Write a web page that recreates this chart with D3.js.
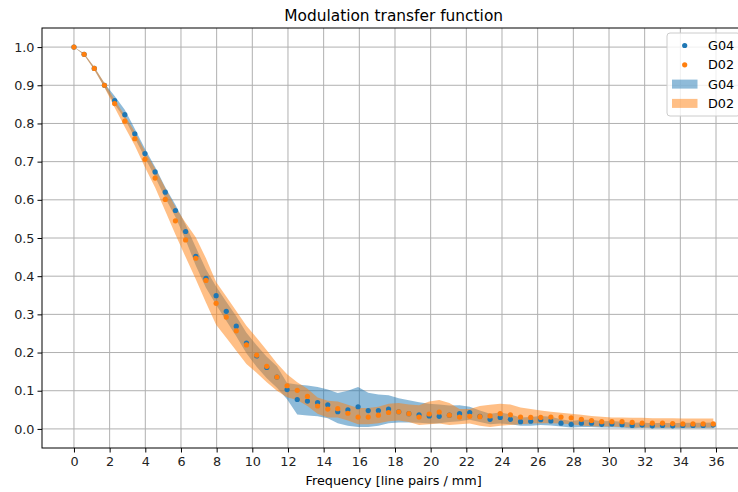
<!DOCTYPE html>
<html>
<head>
<meta charset="utf-8">
<script src="https://cdn.jsdelivr.net/npm/d3@7"></script>
<style>
  body { margin: 0; background: #fff; }
  svg { display: block; font-family: 'DejaVu Sans', sans-serif; }
</style>
</head>
<body>
<div id="mtf_chart"></div>
<script>
// spatial frequency of each sample [lp/mm]
const freq = [0, 0.57, 1.14, 1.71, 2.28, 2.85, 3.41, 3.98, 4.55, 5.12, 5.69, 6.26, 6.83, 7.40, 7.97, 8.54,
  9.10, 9.67, 10.24, 10.81, 11.38, 11.95, 12.52, 13.09, 13.66, 14.23, 14.79, 15.36, 15.93, 16.50, 17.07, 17.64,
  18.21, 18.78, 19.35, 19.92, 20.48, 21.05, 21.62, 22.19, 22.76, 23.33, 23.90, 24.47, 25.04, 25.61, 26.17, 26.74,
  27.31, 27.88, 28.45, 29.02, 29.59, 30.16, 30.73, 31.30, 31.86, 32.43, 33.00, 33.57, 34.14, 34.71, 35.28, 35.85];

// mean MTF per sample
const g04 = [1.000, 0.981, 0.944, 0.900, 0.860, 0.823, 0.773, 0.721, 0.673, 0.620, 0.572, 0.517, 0.452, 0.394, 0.349, 0.308,
  0.269, 0.225, 0.191, 0.161, 0.136, 0.103, 0.077, 0.073, 0.069, 0.063, 0.045, 0.050, 0.058, 0.048, 0.048, 0.052,
  0.045, 0.040, 0.037, 0.034, 0.033, 0.036, 0.040, 0.043, 0.033, 0.025, 0.030, 0.025, 0.019, 0.020, 0.024, 0.021,
  0.015, 0.012, 0.015, 0.015, 0.012, 0.013, 0.011, 0.009, 0.010, 0.008, 0.009, 0.008, 0.009, 0.009, 0.009, 0.010];
const d02 = [1.000, 0.981, 0.944, 0.900, 0.852, 0.806, 0.760, 0.706, 0.657, 0.601, 0.545, 0.495, 0.447, 0.389, 0.329, 0.293,
  0.257, 0.220, 0.193, 0.164, 0.136, 0.113, 0.101, 0.085, 0.060, 0.052, 0.053, 0.041, 0.031, 0.031, 0.036, 0.043,
  0.045, 0.040, 0.031, 0.039, 0.044, 0.036, 0.031, 0.033, 0.032, 0.034, 0.040, 0.037, 0.031, 0.030, 0.030, 0.031,
  0.031, 0.029, 0.025, 0.022, 0.019, 0.019, 0.019, 0.017, 0.015, 0.015, 0.015, 0.014, 0.013, 0.013, 0.013, 0.013];

// spread (lower / upper) around each mean
const g04Low = [1.000, 0.979, 0.941, 0.895, 0.850, 0.812, 0.762, 0.710, 0.660, 0.605, 0.555, 0.495, 0.428, 0.370, 0.325, 0.283,
  0.243, 0.198, 0.163, 0.133, 0.108, 0.078, 0.038, 0.035, 0.033, 0.028, 0.015, 0.008, 0.005, 0.005, 0.008, 0.015,
  0.017, 0.017, 0.016, 0.014, 0.015, 0.018, 0.020, 0.024, 0.018, 0.012, 0.014, 0.012, 0.008, 0.008, 0.010, 0.009,
  0.006, 0.004, 0.005, 0.005, 0.004, 0.004, 0.003, 0.002, 0.003, 0.002, 0.002, 0.002, 0.002, 0.002, 0.002, 0.002];
const g04High = [1.000, 0.983, 0.947, 0.905, 0.872, 0.836, 0.786, 0.734, 0.686, 0.633, 0.587, 0.535, 0.476, 0.418, 0.373, 0.333,
  0.295, 0.252, 0.219, 0.189, 0.164, 0.120, 0.116, 0.114, 0.110, 0.103, 0.094, 0.100, 0.110, 0.095, 0.090, 0.088,
  0.080, 0.075, 0.070, 0.066, 0.064, 0.061, 0.062, 0.058, 0.048, 0.040, 0.043, 0.038, 0.030, 0.031, 0.034, 0.032,
  0.025, 0.021, 0.024, 0.024, 0.020, 0.021, 0.019, 0.016, 0.017, 0.015, 0.016, 0.015, 0.016, 0.016, 0.016, 0.017];
const d02Low = [1.000, 0.979, 0.940, 0.894, 0.842, 0.791, 0.742, 0.685, 0.632, 0.571, 0.509, 0.450, 0.392, 0.331, 0.273, 0.239,
  0.205, 0.170, 0.147, 0.122, 0.100, 0.083, 0.076, 0.060, 0.040, 0.030, 0.030, 0.022, 0.012, 0.012, 0.015, 0.020,
  0.022, 0.018, 0.010, 0.012, 0.014, 0.010, 0.012, 0.014, 0.008, 0.005, 0.008, 0.010, 0.012, 0.014, 0.015, 0.015,
  0.014, 0.012, 0.009, 0.007, 0.006, 0.006, 0.005, 0.004, 0.004, 0.004, 0.004, 0.004, 0.004, 0.004, 0.004, 0.004];
const d02High = [1.000, 0.983, 0.948, 0.906, 0.862, 0.821, 0.778, 0.727, 0.682, 0.631, 0.581, 0.540, 0.502, 0.447, 0.385, 0.347,
  0.309, 0.270, 0.239, 0.206, 0.172, 0.143, 0.122, 0.105, 0.082, 0.074, 0.072, 0.063, 0.055, 0.055, 0.058, 0.066,
  0.068, 0.064, 0.062, 0.072, 0.076, 0.068, 0.052, 0.052, 0.060, 0.063, 0.066, 0.064, 0.056, 0.052, 0.048, 0.045,
  0.042, 0.040, 0.037, 0.034, 0.032, 0.030, 0.030, 0.029, 0.029, 0.028, 0.028, 0.028, 0.027, 0.027, 0.027, 0.027];

const xTickValues = [0, 2, 4, 6, 8, 10, 12, 14, 16, 18, 20, 22, 24, 26, 28, 30, 32, 34, 36];
const yTickValues = [0.0, 0.1, 0.2, 0.3, 0.4, 0.5, 0.6, 0.7, 0.8, 0.9, 1.0];

const seriesNames = ['G04', 'D02'];
const colors = ['#1f77b4', '#ff7f0e'];

const width = 738, height = 492;
const plot = { left: 42, right: 745.3, top: 28, bottom: 448 };

const svg = d3.select('#mtf_chart')
  .append('svg')
  .attr('width', width)
  .attr('height', height)
  .style('overflow', 'hidden');

const x = d3.scaleLinear().domain([-1.7925, 37.6425]).range([plot.left, plot.right]);
const y = d3.scaleLinear().domain([-0.05, 1.05]).range([plot.bottom, plot.top]);

// grid
svg.append('g')
  .selectAll('line')
  .data(xTickValues)
  .enter()
  .append('line')
  .attr('x1', d => x(d)).attr('x2', d => x(d))
  .attr('y1', plot.top).attr('y2', plot.bottom)
  .attr('stroke', '#b0b0b0')
  .attr('stroke-width', 1);
svg.append('g')
  .selectAll('line')
  .data(yTickValues)
  .enter()
  .append('line')
  .attr('x1', plot.left).attr('x2', plot.right)
  .attr('y1', d => y(d)).attr('y2', d => y(d))
  .attr('stroke', '#b0b0b0')
  .attr('stroke-width', 1);

// shaded spread, G04 first then D02 on top
const bands = [[g04Low, g04High], [d02Low, d02High]];
bands.forEach((b, s) => {
  const area = d3.area()
    .x((d, i) => x(freq[i]))
    .y0((d, i) => y(b[0][i]))
    .y1((d, i) => y(b[1][i]));
  svg.append('path')
    .datum(freq)
    .attr('d', area)
    .attr('fill', colors[s])
    .attr('fill-opacity', 0.5);
});

// mean points
[g04, d02].forEach((vals, s) => {
  svg.append('g')
    .selectAll('circle')
    .data(vals)
    .enter()
    .append('circle')
    .attr('cx', (d, i) => x(freq[i]))
    .attr('cy', d => y(d))
    .attr('r', 2.6)
    .attr('fill', colors[s]);
});

// axes
const xAxis = svg.append('g')
  .attr('transform', 'translate(0,' + plot.bottom + ')')
  .call(d3.axisBottom(x).tickValues(xTickValues).tickSize(4.5).tickPadding(4).tickFormat(d3.format('d')));
const yAxis = svg.append('g')
  .attr('transform', 'translate(' + plot.left + ',0)')
  .call(d3.axisLeft(y).tickValues(yTickValues).tickSize(4.5).tickPadding(3).tickFormat(d3.format('.1f')));
[xAxis, yAxis].forEach(a => {
  a.select('.domain').remove();
  a.selectAll('line').attr('stroke', '#000').attr('stroke-width', 1);
  a.selectAll('text').attr('font-size', 12.8).attr('fill', '#222').attr('font-family', 'DejaVu Sans');
});

// spines
svg.append('rect')
  .attr('x', plot.left).attr('y', plot.top)
  .attr('width', plot.right - plot.left).attr('height', plot.bottom - plot.top)
  .attr('fill', 'none')
  .attr('stroke', '#000')
  .attr('stroke-width', 1);

// titles
svg.append('text')
  .attr('x', (plot.left + plot.right) / 2)
  .attr('y', 21)
  .attr('text-anchor', 'middle')
  .attr('font-size', 15.4)
  .attr('fill', '#000')
  .text('Modulation transfer function');
svg.append('text')
  .attr('x', (plot.left + plot.right) / 2)
  .attr('y', 485)
  .attr('text-anchor', 'middle')
  .attr('font-size', 12.8)
  .attr('fill', '#000')
  .text('Frequency [line pairs / mm]');

// legend
const legend = svg.append('g').attr('transform', 'translate(667,33)');
legend.append('rect')
  .attr('x', 0).attr('y', 0)
  .attr('width', 73).attr('height', 83)
  .attr('rx', 3)
  .attr('fill', '#fff')
  .attr('fill-opacity', 0.8)
  .attr('stroke', '#ccc');
const rows = [
  { kind: 'dot', s: 0 },
  { kind: 'dot', s: 1 },
  { kind: 'patch', s: 0 },
  { kind: 'patch', s: 1 }
];
rows.forEach((r, i) => {
  const cy = 12.5 + i * 19.3;
  if (r.kind === 'dot') {
    legend.append('circle')
      .attr('cx', 17.7).attr('cy', cy)
      .attr('r', 2.6)
      .attr('fill', colors[r.s]);
  } else {
    legend.append('rect')
      .attr('x', 5).attr('y', cy - 4.5)
      .attr('width', 25.5).attr('height', 9)
      .attr('fill', colors[r.s])
      .attr('fill-opacity', 0.5);
  }
  legend.append('text')
    .attr('x', 41).attr('y', cy + 4.6)
    .attr('font-size', 12.8)
    .attr('fill', '#000')
    .text(seriesNames[r.s]);
});
</script>
</body>
</html>
